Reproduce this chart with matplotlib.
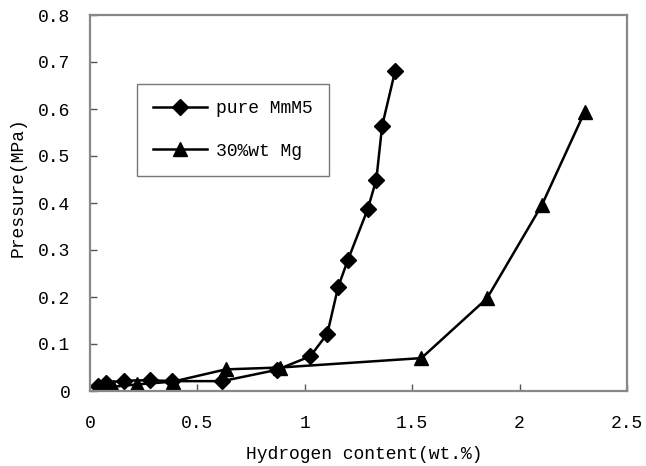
import matplotlib
matplotlib.use('Agg')
import matplotlib.pyplot as plt

plt.rcParams['font.family'] = ['Liberation Mono', 'DejaVu Sans Mono']

# pure MmM5 (diamonds)
pure_x = [0.036, 0.076, 0.158, 0.278, 0.38, 0.616, 0.87, 1.026, 1.105, 1.155, 1.20, 1.293, 1.333, 1.36, 1.42]
pure_y = [0.011, 0.018, 0.022, 0.023, 0.021, 0.021, 0.045, 0.074, 0.122, 0.221, 0.278, 0.387, 0.45, 0.564, 0.68]

# 30%wt Mg (triangles)
mg_x = [0.107, 0.22, 0.387, 0.632, 0.886, 1.543, 1.848, 2.104, 2.303]
mg_y = [0.009, 0.014, 0.02, 0.046, 0.05, 0.07, 0.197, 0.396, 0.594]

xticks = [0, 0.5, 1, 1.5, 2, 2.5]
xticklabels = ['0', '0.5', '1', '1.5', '2', '2.5']
yticks = [0, 0.1, 0.2, 0.3, 0.4, 0.5, 0.6, 0.7, 0.8]
yticklabels = ['0', '0.1', '0.2', '0.3', '0.4', '0.5', '0.6', '0.7', '0.8']

fig = plt.figure(figsize=(6.46, 4.66), dpi=100)
ax = fig.add_axes([90 / 646, 75 / 466, 537 / 646, 376 / 466])

ax.plot(pure_x, pure_y, color='black', lw=1.8, marker='D', ms=8, label='pure MmM5')
ax.plot(mg_x, mg_y, color='black', lw=1.8, marker='^', ms=10, label='30%wt Mg')

ax.set_xlim(0, 2.5)
ax.set_ylim(0, 0.8)
ax.set_xticks(xticks)
ax.set_xticklabels(xticklabels)
ax.set_yticks(yticks)
ax.set_yticklabels(yticklabels)
ax.tick_params(direction='in', length=5, width=1, labelsize=13, color='#555555')
ax.tick_params(axis='x', pad=17)
ax.tick_params(axis='y', pad=14)

for s in ax.spines.values():
    s.set_color('#888888')
    s.set_linewidth(1.6)

ax.set_xlabel('Hydrogen content(wt.%)', fontsize=13)
ax.set_ylabel('Pressure(MPa)', fontsize=13)
ax.xaxis.set_label_coords(0.51, -0.145)
ax.yaxis.set_label_coords(-0.118, 0.543)

leg = ax.legend(loc='upper left', bbox_to_anchor=(0.087, 0.816), fontsize=13,
                fancybox=False, edgecolor='#777777', framealpha=1,
                handlelength=3.0, labelspacing=1.4, borderpad=0.9,
                borderaxespad=0, handletextpad=0.5)
leg.get_frame().set_linewidth(1.0)

fig.savefig('out.png', dpi=100)
